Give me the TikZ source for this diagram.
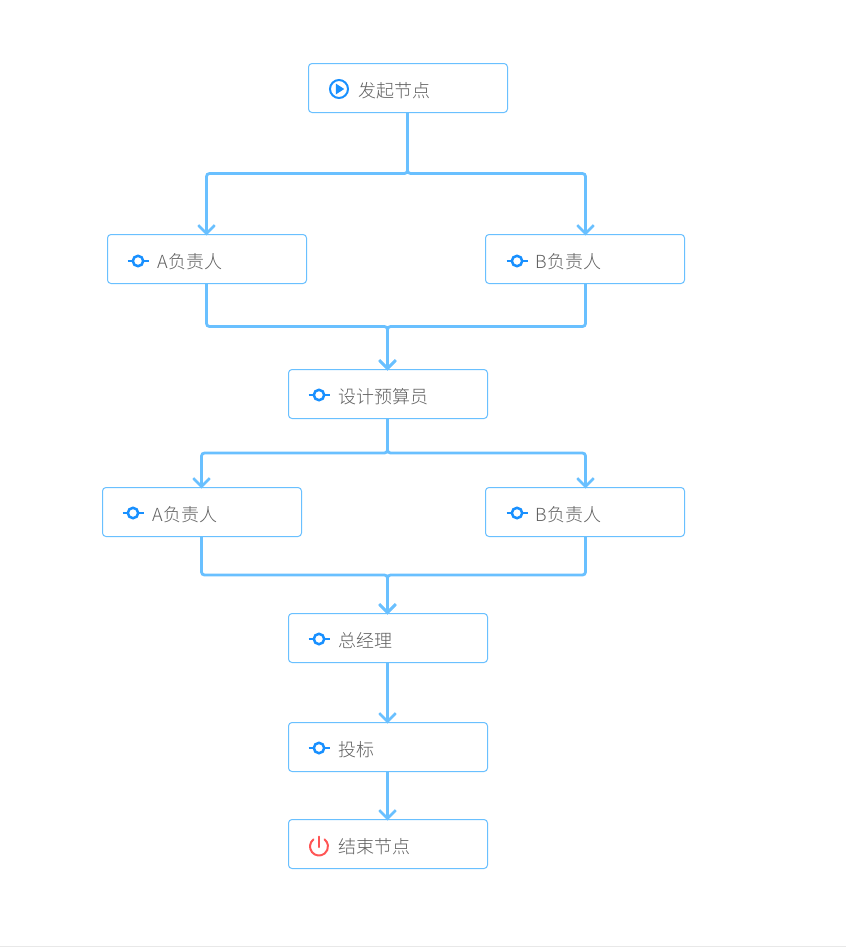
\documentclass[tikz,border=0pt]{standalone}
\usepackage{fontspec}
\setmainfont{Noto Sans CJK SC}[UprightFont={* Light}]
\usetikzlibrary{arrows.meta,calc}
\definecolor{lineblue}{HTML}{69C0FF}
\definecolor{iconblue}{HTML}{1890FF}
\definecolor{iconred}{HTML}{FF5555}
\definecolor{labelgrey}{HTML}{606060}
\definecolor{rulegrey}{HTML}{E8E8E8}
\tikzset{
  flowbox/.style={draw=lineblue,line width=1pt,rounded corners=3.5pt,fill=white,
    minimum width=199pt,minimum height=49pt,inner xsep=0pt,inner ysep=0pt,
    text width=149pt,align=left,text=labelgrey,font=\fontsize{18}{20}\selectfont,
    text height=18pt,text depth=0pt,
    execute at begin node={\hspace*{25.2pt}}},
  conn/.style={draw=lineblue,line width=2.8pt,rounded corners=3pt,shorten >=-1.5pt,
    -{Straight Barb[length=8.5pt,width=16.5pt,line width=2.6pt]}},
  stepicon/.pic={
    \draw[iconblue,line width=2.5pt] (0,0) circle (5.2);
    \draw[iconblue,line width=2.2pt] (-10.5,0) -- (-5,0) (5,0) -- (10.5,0);
  },
  playicon/.pic={
    \draw[iconblue,line width=2pt] (0,0) circle (9);
    \fill[iconblue] (-3.2,-5.5) -- (5.2,0) -- (-3.2,5.5) -- cycle;
  },
  powericon/.pic={
    \draw[iconred,line width=2pt,line cap=round] (-5.54,-7.09) arc[start angle=128,end angle=412,radius=9pt];
    \draw[iconred,line width=2pt,line cap=round] (0,-10) -- (0,0.5);
  },
}
\begin{document}
\begin{tikzpicture}[x=1pt,y=-1pt]
\useasboundingbox (0,0) rectangle (846,948);
\fill[white] (0,0) rectangle (846,948);
\draw[rulegrey,line width=1pt] (0,946.5) -- (846,946.5);
% boxes
\node[flowbox] (start) at (408,88) {发起节点};
\node[flowbox] (a1) at (207,259) {A负责人};
\node[flowbox] (b1) at (585,259) {B负责人};
\node[flowbox] (design) at (388,394) {设计预算员};
\node[flowbox] (a2) at (202,512) {A负责人};
\node[flowbox] (b2) at (585,512) {B负责人};
\node[flowbox] (gm) at (388,638) {总经理};
\node[flowbox] (bid) at (388,747) {投标};
\node[flowbox] (finish) at (388,844) {结束节点};
% icons
\pic at ($(start.west)+(31,1)$) {playicon};
\pic at ($(a1.west)+(31,2)$) {stepicon};
\pic at ($(b1.west)+(32,2)$) {stepicon};
\pic at ($(design.west)+(31,1)$) {stepicon};
\pic at ($(a2.west)+(31,1)$) {stepicon};
\pic at ($(b2.west)+(32,1)$) {stepicon};
\pic at ($(gm.west)+(31,1)$) {stepicon};
\pic at ($(bid.west)+(31,1)$) {stepicon};
\pic at ($(finish.west)+(31,2.5)$) {powericon};
% junctions
\coordinate (j1) at ([xshift=-0.5pt]start.south |- 0,173.5);
\coordinate (j2) at ([xshift=-0.5pt]design.north |- 0,326.5);
\coordinate (j3) at ([xshift=-0.5pt]design.south |- 0,453);
\coordinate (j4) at ([xshift=-0.5pt]gm.north |- 0,575);
% connectors
\draw[conn] ([xshift=-0.5pt]start.south) -- (j1) -| ([xshift=-0.5pt]a1.north);
\draw[conn] ([xshift=-0.5pt]start.south) -- (j1) -| ([xshift=0.5pt]b1.north);
\draw[conn] ([xshift=-0.5pt]a1.south) |- (j2) -- ([xshift=-0.5pt]design.north);
\draw[conn] ([xshift=0.5pt]b1.south) |- (j2) -- ([xshift=-0.5pt]design.north);
\draw[conn] ([xshift=-0.5pt]design.south) -- (j3) -| ([xshift=-0.5pt]a2.north);
\draw[conn] ([xshift=-0.5pt]design.south) -- (j3) -| ([xshift=0.5pt]b2.north);
\draw[conn] ([xshift=-0.5pt]a2.south) |- (j4) -- ([xshift=-0.5pt]gm.north);
\draw[conn] ([xshift=0.5pt]b2.south) |- (j4) -- ([xshift=-0.5pt]gm.north);
\draw[conn] ([xshift=-0.5pt]gm.south) -- ([xshift=-0.5pt]bid.north);
\draw[conn] ([xshift=-0.5pt]bid.south) -- ([xshift=-0.5pt]finish.north);
\end{tikzpicture}
\end{document}
